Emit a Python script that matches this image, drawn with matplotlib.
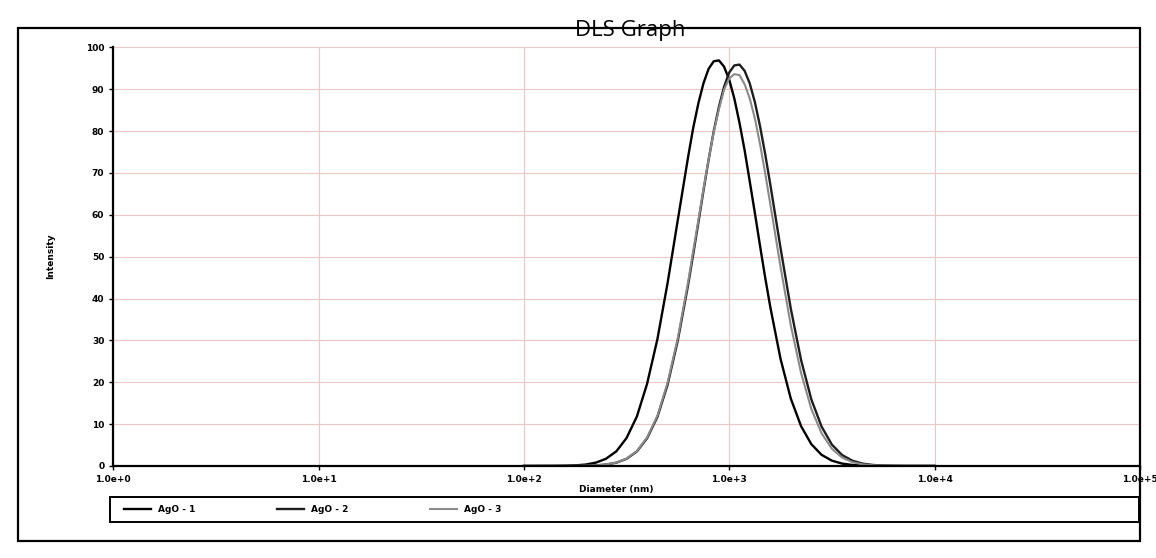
import matplotlib.pyplot as plt
from matplotlib.patches import Rectangle

# size bins (nm): 0.05 decade steps, 0.025 steps around the peaks
diameter = [100, 112, 126, 141, 158, 178, 200, 224, 251, 282, 316, 355, 398, 447, 501,
            562, 631, 668, 708, 750, 794, 841, 891, 944, 1000, 1059, 1122, 1189, 1259,
            1334, 1413, 1496, 1585, 1778, 1995, 2239, 2512,
            2818, 3162, 3548, 3981, 4467, 5012, 5623, 6310, 7079, 7943, 8913, 10000]

ago1 = [0, 0, 0.01, 0.02, 0.05, 0.13, 0.33, 0.78, 1.71, 3.49, 6.65, 11.8, 19.6, 30.3, 43.7,
        58.8, 73.9, 80.8, 86.7, 91.5, 94.9, 96.7, 96.9, 95.4, 92.3, 87.8, 82.0, 75.4, 68.0,
        60.4, 52.6, 45.1, 38.0, 25.6, 16.1, 9.5, 5.2,
        2.65, 1.26, 0.56, 0.23, 0.09, 0.03, 0, 0, 0, 0, 0, 0]
ago2 = [0, 0, 0, 0, 0.01, 0.02, 0.05, 0.13, 0.33, 0.77, 1.69, 3.45, 6.6, 11.7, 19.4,
        30.0, 43.3, 50.6, 58.2, 65.9, 73.2, 80.0, 85.8, 90.6, 94.0, 95.7, 95.9, 94.4, 91.4,
        86.9, 81.2, 74.6, 67.3, 52.1, 37.6, 25.3, 15.9,
        9.4, 5.1, 2.6, 1.25, 0.55, 0.23, 0.09, 0.03, 0, 0, 0, 0]
ago3 = [0, 0, 0, 0, 0.01, 0.02, 0.06, 0.14, 0.35, 0.8, 1.75, 3.55, 6.8, 12.0, 19.9,
        30.6, 44.0, 51.4, 58.8, 66.3, 73.3, 79.8, 85.2, 89.9, 92.6, 93.6, 93.4, 91.2, 87.8,
        83.0, 76.9, 70.0, 62.6, 47.6, 33.6, 22.2, 13.6,
        7.8, 4.1, 2.0, 0.9, 0.38, 0.15, 0.05, 0, 0, 0, 0, 0]

labels = ["AgO - 1", "AgO - 2", "AgO - 3"]
xticks = [1, 10, 100, 1000, 10000, 100000]
xticklabels = ["1.0e+0", "1.0e+1", "1.0e+2", "1.0e+3", "1.0e+4", "1.0e+5"]
yticks = [0, 10, 20, 30, 40, 50, 60, 70, 80, 90, 100]

fig = plt.figure(figsize=(11.56, 5.58), dpi=100)
ax = fig.add_axes([0.098, 0.165, 0.888, 0.75])

ax.plot(diameter, ago1, color="black", lw=1.7, label=labels[0])
ax.plot(diameter, ago2, color="#1e1e1e", lw=1.7, label=labels[1])
ax.plot(diameter, ago3, color="#8a8a8a", lw=1.5, label=labels[2])

ax.set_xscale("log")
ax.set_xlim(1, 100000)
ax.set_ylim(0, 100)
ax.set_xticks(xticks)
ax.set_xticklabels(xticklabels, fontsize=6.5, fontweight="bold")
ax.set_yticks(yticks)
ax.set_yticklabels([str(v) for v in yticks], fontsize=6.5, fontweight="bold")
ax.minorticks_off()
ax.tick_params(length=3, width=1)

ax.grid(True, which="major", color="#efc6c6", lw=0.8, linestyle="-")
ax.set_axisbelow(True)
for s in ["top", "right"]:
    ax.spines[s].set_visible(False)
for s in ["left", "bottom"]:
    ax.spines[s].set_linewidth(1.6)

ax.set_ylabel("Intensity", fontsize=6.5, fontweight="bold", labelpad=22)
ax.text(0.49, -0.045, "Diameter (nm)", transform=ax.transAxes, fontsize=6.5,
        fontweight="bold", ha="center", va="top")

fig.text(0.545, 0.945, "DLS Graph", fontsize=16, family="Open Sans", ha="center", va="center")

# legend box under the plot
fig.patches.append(Rectangle((0.095, 0.065), 0.89, 0.045, transform=fig.transFigure,
                             fill=False, ec="black", lw=1.4))
fig.legend(loc="center left", bbox_to_anchor=(0.1, 0.0875), ncol=3, frameon=False,
           prop={"weight": "bold", "size": 6.5}, columnspacing=9, handlelength=3)

# outer frame
fig.patches.append(Rectangle((0.016, 0.03), 0.97, 0.92, transform=fig.transFigure,
                             fill=False, ec="black", lw=1.6))

fig.savefig("out.png", dpi=100)
